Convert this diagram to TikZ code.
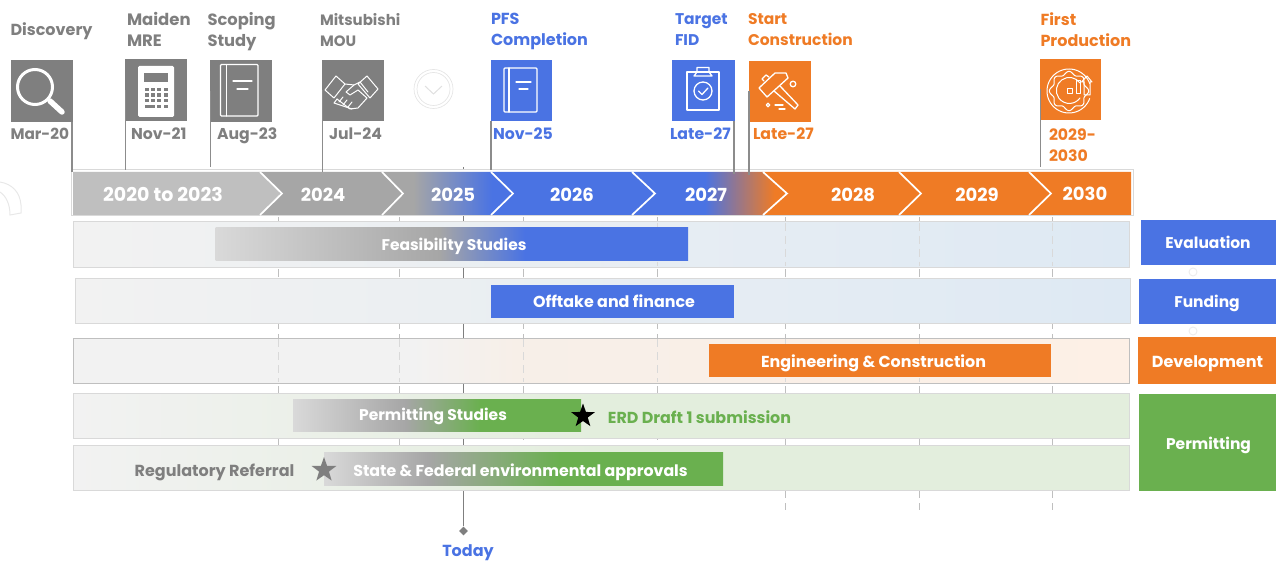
\documentclass[tikz,border=0pt]{standalone}
\usepackage{fontspec}
\setmainfont{Poppins}
\usetikzlibrary{shapes.geometric,calc}
\definecolor{cblue}{HTML}{4A73E3}
\definecolor{corange}{HTML}{EF7B25}
\definecolor{cgreen}{HTML}{6AB04F}
\definecolor{cg1}{HTML}{BFBFBF}
\definecolor{cg2}{HTML}{A6A6A6}
\definecolor{cg3}{HTML}{D9D9D9}
\definecolor{cdark}{HTML}{7F7F7F}
\definecolor{cpole}{HTML}{8C8C8C}
\definecolor{ctext}{HTML}{7F7F7F}
\definecolor{rowg}{HTML}{F2F2F2}
\definecolor{rowb}{HTML}{DEE9F3}
\definecolor{rowo}{HTML}{FDF0E6}
\definecolor{rowm}{HTML}{F7EFE8}
\definecolor{rowv}{HTML}{E3EEDD}
\pgfdeclarehorizontalshading{shfeas}{100bp}{color(0bp)=(cg3);color(25bp)=(cg3);color(48.7bp)=(cg2);color(57.7bp)=(cblue);color(100bp)=(cblue)}
\pgfdeclarehorizontalshading{shperm}{100bp}{color(0bp)=(cg3);color(25bp)=(cg3);color(44.5bp)=(cg2);color(57.5bp)=(cgreen);color(100bp)=(cgreen)}
\pgfdeclarehorizontalshading{shstate}{100bp}{color(0bp)=(cg3);color(25bp)=(cg3);color(38bp)=(cg2);color(54.5bp)=(cgreen);color(100bp)=(cgreen)}
\pgfdeclarehorizontalshading{shsegc}{100bp}{color(0bp)=(cg2);color(37bp)=(cg2);color(67bp)=(cblue);color(100bp)=(cblue)}
\pgfdeclarehorizontalshading{shsegf}{100bp}{color(0bp)=(cblue);color(48.5bp)=(cblue);color(71bp)=(corange);color(100bp)=(corange)}
\pgfdeclarehorizontalshading{shrowo}{100bp}{color(0bp)=(rowg);color(41bp)=(rowg);color(46bp)=(rowm);color(75bp)=(rowo);color(100bp)=(rowo)}
\pgfdeclarehorizontalshading{shrowb}{100bp}{color(0bp)=(rowg);color(25bp)=(rowg);color(75bp)=(rowb);color(100bp)=(rowb)}
\pgfdeclarehorizontalshading{shrowv}{100bp}{color(0bp)=(rowg);color(25bp)=(rowg);color(50bp)=(rowv);color(75bp)=(rowv);color(100bp)=(rowv)}
\tikzset{
  bx/.style={anchor=north west,inner sep=0,outer sep=0},
  sz/.style={font=\fontsize{#1}{21}\selectfont\bfseries},
  lbl/.style={inner sep=0,outer sep=0,align=left,sz=15.5,yshift=-.5pt,execute at begin node=\strut},
  head/.style={lbl,anchor=west},
  yr/.style={lbl,text=white,sz=18},
  bartxt/.style={lbl,text=white},
  pole/.style={draw=cpole,line width=1.3pt},
  chev/.style={draw=white,line width=1.7pt},
  grid/.style={draw=cg1,line width=.9pt,dash pattern=on 8pt off 5pt},
  gridin/.style={draw=cg3,line width=.8pt,dash pattern=on 8pt off 5pt},
  rowbox/.style={bx,draw=cg3,line width=1pt},
  ico/.style={draw=white,line width=1.3pt,line join=round,line cap=round},
  faint/.style={draw=black!9,line width=1pt}
}
\newcommand{\bxn}[6]{\node[bx,#6,minimum width={(#4-#2)*1pt},minimum height={(#5-#3)*1pt}] (#1) at (#2,#3) {};}
\begin{document}
\begin{tikzpicture}[x=1pt,y=-1pt]
\useasboundingbox (0,0) rectangle (1276,561);
% faint artefacts
\draw[faint] (0,182) .. controls (12,184) and (20,192) .. (21,205) -- (21,213) -- (10,215) .. controls (10,204) and (6,196) .. (0,192);
\draw[faint,draw=black!7] (1193,272) circle[radius=4];
\draw[faint,draw=black!7] (1193,331) circle[radius=4];
% vertical grid
\foreach \x/\e in {278/490,399/490,523/440,657/440,785/510,919/510,1052/510}
  \draw[grid] (\x,217) -- (\x,\e);
% today line
\coordinate (todayTop) at (463.5,167);
\node[diamond,fill=cdark,minimum size=9pt,inner sep=0] (todayMark) at (463.5,531) {};
\draw[draw=cdark,line width=1.4pt] (todayTop) -- (todayMark);
% rows
\bxn{rowA}{73}{222}{1129}{267}{rowbox,shade,shading=shrowb}
\bxn{rowB}{75}{278}{1130}{323}{rowbox,shade,shading=shrowb}
\bxn{rowC}{73}{338}{1129}{383}{rowbox,draw=cg1,shade,shading=shrowo}
\bxn{rowD}{73}{393}{1129}{438}{rowbox,shade,shading=shrowv}
\bxn{rowE}{73}{445}{1129}{490}{rowbox,shade,shading=shrowv}
\foreach \x in {657,785,919,1052} \draw[gridin] (\x,223) -- (\x,266);
\foreach \x in {278,399,523,657,785,919} \draw[gridin] (\x,339) -- (\x,382);
% bars
\bxn{barA}{215.5}{228}{688}{261}{shade,shading=shfeas}
\bxn{barB}{491}{285}{734}{318}{fill=cblue}
\bxn{barC}{708.5}{344}{1051}{377}{fill=corange}
\bxn{barD}{293}{399}{581}{431}{shade,shading=shperm}
\bxn{barE}{324}{452.5}{723}{485.5}{shade,shading=shstate}
\node[bartxt] (tA) at (454,246) {Feasibility Studies};
\node[bartxt,sz=15.9] (tB) at (614,303) {Offtake and finance};
\node[bartxt,sz=15.9] (tC) at (873.5,363) {Engineering \& Construction};
\node[bartxt] (tD) at (433,415.5) {Permitting Studies};
\node[bartxt,sz=15.8] (tE) at (520.5,471.5) {State \& Federal environmental approvals};
\node[star,star points=5,star point ratio=2.5,fill=black,minimum size=25pt,inner sep=0] (starA) at (583,416) {};
\node[star,star points=5,star point ratio=2.5,fill=cdark,minimum size=26pt,inner sep=0] (starB) at (324,470) {};
\node[lbl,text=cgreen,sz=15.9] (erd) at (699.5,419) {ERD Draft 1 submission};
\node[lbl,text=ctext,sz=16] (reg) at (214.5,471.5) {Regulatory Referral};
\node[lbl,text=cblue,sz=16] (today) at (468,551.5) {Today};
% right legend
\bxn{lgA}{1141}{220}{1276}{265}{fill=cblue}
\bxn{lgB}{1139}{279}{1276}{324}{fill=cblue}
\bxn{lgC}{1138}{337}{1276}{384}{fill=corange}
\bxn{lgD}{1139}{394}{1276}{491}{fill=cgreen}
\node[bartxt] (ltA) at (1208,244) {Evaluation};
\node[bartxt] (ltB) at (1207,303) {Funding};
\node[bartxt,sz=16] (ltC) at (1207.5,363) {Development};
\node[bartxt] (ltD) at (1208.5,445) {Permitting};
% band
\draw[draw=cg3,line width=1pt,fill=white] (71,170) rectangle (1133,216);
\fill[cg1] (73,172) -- (260,172) -- (282,193.5) -- (260,215) -- (73,215) -- cycle;
\fill[cg2] (260,172) -- (382,172) -- (403,193.5) -- (382,215) -- (260,215) -- (282,193.5) -- cycle;
\shade[shading=shsegc] (382,172) -- (491,172) -- (513,193.5) -- (491,215) -- (382,215) -- (403,193.5) -- cycle;
\fill[cblue] (491,172) -- (632,172) -- (655,193.5) -- (632,215) -- (491,215) -- (513,193.5) -- cycle;
\shade[shading=shsegf] (632,172) -- (763,172) -- (787,193.5) -- (763,215) -- (632,215) -- (655,193.5) -- cycle;
\fill[corange] (763,172) -- (1131,172) -- (1131,215) -- (763,215) -- (787,193.5) -- cycle;
\foreach \a/\b in {260/282,382/403,491/513,632/655,763/787,899/921,1029/1051}
  \draw[chev] (\a,172) -- (\b,193.5) -- (\a,215);
\node[yr,sz=19] (y1) at (163,196.5) {2020 to 2023};
\node[yr] (y2) at (323,196.5) {2024};
\node[yr] (y3) at (453,196.5) {2025};
\node[yr] (y4) at (572,196.5) {2026};
\node[yr] (y5) at (706,196.5) {2027};
\node[yr] (y6) at (853,196.5) {2028};
\node[yr] (y7) at (977,196.5) {2029};
\node[yr] (y8) at (1085,195.5) {2030};
% flag boxes
\bxn{fD}{11}{60}{73}{122}{fill=cdark}
\bxn{fM}{125}{59}{187}{121}{fill=cdark}
\bxn{fS}{210}{60}{272}{122}{fill=cdark}
\bxn{fJ}{322}{60}{384}{121}{fill=cdark}
\bxn{fP}{491}{60}{552}{121}{fill=cblue}
\bxn{fT}{672}{60}{735}{121}{fill=cblue}
\bxn{fC}{749}{61}{811}{122}{fill=corange}
\bxn{fF}{1040}{59}{1101}{120}{fill=corange}
% poles
\coordinate (pD) at (72,172);
\coordinate (pM) at (125.5,170);
\coordinate (pS) at (210.5,167);
\coordinate (pJ) at (322.5,172);
\coordinate (pP) at (491,170);
\coordinate (pT) at (734,174);
\coordinate (pC) at (749,175);
\coordinate (pF) at (1040.5,167);
\draw[pole] ($(fD.south east)+(-1,0)$) -- (pD);
\draw[pole] ($(fM.west)+(.5,0)$) -- (pM);
\draw[pole] ($(fS.west)+(.5,0)$) -- (pS);
\draw[pole] ($(fJ.west)+(.5,0)$) -- (pJ);
\draw[pole] (fP.south west) -- (pP);
\draw[pole] ($(fT.south east)+(-1,0)$) -- (pT);
\draw[pole] (fC.west) -- (pC);
\draw[pole] ($(fF.west)+(.5,0)$) -- (pF);
% heads
\node[head,text=ctext,sz=16] (hD) at (10.5,30.7) {Discovery};
\node[head,text=ctext,sz=16.5] (hM) at (127,32.2) {Maiden\\\strut MRE};
\node[head,text=ctext,sz=16.3] (hS) at (207.5,32.2) {Scoping\\\strut Study};
\node[head,text=ctext,sz=15] (hJ) at (320,32.2) {Mitsubishi\\\strut MOU};
\node[head,text=cblue,sz=16] (hP) at (491,32.2) {PFS\\\strut Completion};
\node[head,text=cblue] (hT) at (675,32.2) {Target\\\strut FID};
\node[head,text=corange] (hC) at (748,32.2) {Start\\\strut Construction};
\node[head,text=corange,sz=16] (hF) at (1040.5,32.2) {First\\\strut Production};
% dates
\node[head,text=ctext,sz=15.3] (dD) at (10.5,135) {Mar-20};
\node[head,text=ctext,sz=15.7] (dM) at (131,135) {Nov-21};
\node[head,text=ctext,sz=15.7] (dS) at (217,135) {Aug-23};
\node[head,text=ctext,sz=15.7] (dJ) at (329,135) {Jul-24};
\node[head,text=cblue,sz=15.7] (dP) at (493,135) {Nov-25};
\node[head,text=cblue,sz=15.7] (dT) at (670,135) {Late-27};
\node[head,text=corange,sz=15.7] (dC) at (753,135) {Late-27};
\node[head,text=corange,sz=15.7] (dF) at (1049,147.5) {2029-\\\strut 2030};
% icon: magnifier
\draw[draw=white,line width=3pt] (35,87) circle[radius=17.5];
\draw[draw=white,line width=5.5pt,line cap=round] (50,101) -- (62,112);
% icon: calculator
\fill[white,rounded corners=1.5pt] (138,66) rectangle (174,117);
\fill[cdark] (144,73) rectangle (168,82);
\foreach \i in {0,1,2,3} \foreach \j in {0,1,2}
  \fill[cdark] (145+\i*6.2,88+\j*5.5) rectangle ++(4,3.4);
\fill[cdark] (145,105) rectangle ++(10,3.4);
\foreach \i in {2,3} \fill[cdark] (145+\i*6.2,105) rectangle ++(4,3.4);
% icon: books
\draw[ico,rounded corners=1pt] (220.5,64.5) rectangle (258,116);
\draw[ico] (226.5,65) -- (226.5,116);
\draw[ico] (233,81) -- (252,81) (237,89) -- (248,89);
\draw[ico,rounded corners=1pt] (504,68) rectangle (537,112);
\draw[ico] (509,68) -- (509,112);
\draw[ico] (516,82) -- (531,82) (519,89) -- (528,89);
% icon: handshake
\begin{scope}[ico,line width=1pt]
\draw (325,90) -- (336,76) -- (345,84) -- (334,98) -- cycle;
\draw (378,89) -- (367,76) -- (358,84) -- (370,98) -- cycle;
\draw (345,84) -- (354,85) -- (360,82) -- (368,92);
\draw (354,85) -- (346,92) -- (350,95) -- (358,90) -- (367,98) -- (358,108) -- (350,109) -- (337,99);
\draw (337,99) -- (334,103) -- (352,109);
\draw (339,102) -- (343,97) (343,105) -- (347,100) (348,107) -- (352,102);
\end{scope}
% circle chevron
\draw[draw=black!10,line width=.7pt] (433.5,89) circle[radius=19.5] circle[radius=16.5];
\draw[draw=black!12,line width=1pt] (425,86) -- (433.5,94) -- (442,86);
% icon: clipboard
\draw[ico] (687,72) rectangle (719,110);
\draw[ico] (697,72) -- (697,67.5) -- (709,67.5) -- (709,72) -- (712,76) -- (694,76) -- cycle;
\draw[ico] (703,91) circle[radius=9];
\draw[ico] (698.5,91) -- (702,94.5) -- (708,88);
% icon: hammer
\begin{scope}[ico]
\draw (759,88) -- (775,73) -- (786,73) -- (788,78) -- (767,97) -- cycle;
\draw (764,81) -- (762,79) -- (766,75) -- (769,77);
\draw (774,91) -- (795,109) -- (798,105) -- (780,86);
\draw (793,84) circle[radius=2.8];
\draw (768,105) circle[radius=1.8];
\draw (775,105) -- (783,105) (779,109) -- (785,109);
\end{scope}
% icon: gear
\begin{scope}[ico,line width=1pt]
\draw plot[domain=20:340,samples=70,smooth] ({1069+22*cos(\x)},{91+22*sin(\x)});
\draw plot[domain=-40:320,samples=120,smooth] ({1069+(18+1.6*cos(8*\x))*cos(\x)},{91+(18+1.6*cos(8*\x))*sin(\x)});
\draw (1080,83) arc[start angle=-35,end angle=-325,radius=13];
\draw (1067,89) rectangle (1072,94);
\draw (1076,81) rectangle (1080,94);
\draw (1084,95) -- (1084,82) -- (1081.5,82) -- (1087,76) -- (1092,82) -- (1090,82) -- (1090,95) -- cycle;
\end{scope}
\end{tikzpicture}
\end{document}
